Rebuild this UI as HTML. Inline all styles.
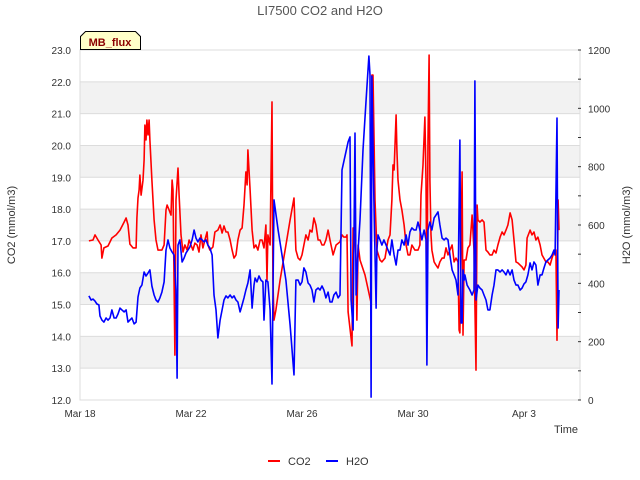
<!DOCTYPE html>
<html><head><meta charset="utf-8"><style>
body{margin:0;background:#fff;}
svg{display:block;font-family:"Liberation Sans","DejaVu Sans",sans-serif;}
</style></head><body>
<svg id="chart" width="640" height="480" viewBox="0 0 640 480">
<rect x="0" y="0" width="640" height="480" fill="#fff"/>
<text x="320" y="15" text-anchor="middle" font-size="13" fill="#555">LI7500 CO2 and H2O</text>
<g id="bands"></g>
<g id="grid"></g>
<g id="axes"></g>
<g id="series"></g>
<text x="15" y="225" transform="rotate(-90 15 225)" text-anchor="middle" font-size="11" fill="#333">CO2 (mmol/m3)</text>
<text x="630" y="225" transform="rotate(-90 630 225)" text-anchor="middle" font-size="11" fill="#333">H2O (mmol/m3)</text>
<text x="578" y="433" text-anchor="end" font-size="11" fill="#333">Time</text>
<g>
<path d="M80.5,49.5 L80.5,36.5 L85.5,31.5 L135.5,31.5 L140.5,36.5 L140.5,49.5 Z" fill="#ffffc8" stroke="#000" stroke-width="1"/>
<text x="110" y="46" text-anchor="middle" font-size="11" font-weight="bold" fill="#8b0000">MB_flux</text>
</g>
<g>
<g>
<line x1="268" y1="461" x2="280" y2="461" stroke="#f00" stroke-width="2"/>
<text x="288" y="465" font-size="11" fill="#333">CO2</text></g>
<g>
<line x1="326" y1="461" x2="338" y2="461" stroke="#00f" stroke-width="2"/>
<text x="346" y="465" font-size="11" fill="#333">H2O</text></g>
</g>
</svg>
<script>
const xTickLabels=["Mar 18","Mar 22","Mar 26","Mar 30","Apr 3"];
const xTickDays=[0,4,8,12,16];
const leftTicks=[12,13,14,15,16,17,18,19,20,21,22,23];
const rightTicks=[0,200,400,600,800,1000,1200];
const co2Times=[.32,.47,.54,.65,.76,.79,.86,1.01,1.15,1.30,1.44,1.59,1.66,1.73,1.80,1.91,2.02,2.05,2.09,2.13,2.16,2.20,2.27,2.31,2.34,2.38,2.41,2.45,2.49,2.52,2.59,2.67,2.74,2.81,2.95,3.03,3.10,3.14,3.21,3.28,3.32,3.35,3.42,3.46,3.53,3.57,3.64,3.71,3.78,3.86,3.93,4.00,4.07,4.14,4.22,4.29,4.36,4.43,4.50,4.58,4.61,4.68,4.79,4.86,4.97,5.05,5.12,5.19,5.26,5.33,5.41,5.48,5.55,5.62,5.69,5.77,5.84,5.91,5.98,6.02,6.05,6.13,6.20,6.27,6.34,6.41,6.49,6.56,6.63,6.70,6.74,6.77,6.85,6.92,6.95,6.99,7.06,7.21,7.39,7.57,7.71,7.78,7.86,7.93,8.00,8.07,8.14,8.22,8.29,8.36,8.43,8.50,8.58,8.65,8.72,8.79,8.86,8.94,9.01,9.12,9.23,9.37,9.44,9.51,9.59,9.62,9.66,9.80,9.84,9.91,9.95,9.98,10.02,10.09,10.27,10.49,10.52,10.56,10.63,10.70,10.81,10.88,10.99,11.10,11.17,11.24,11.28,11.32,11.39,11.42,11.46,11.53,11.60,11.68,11.75,11.82,11.89,11.96,12.07,12.18,12.25,12.29,12.36,12.43,12.47,12.50,12.54,12.58,12.61,12.65,12.68,12.76,12.83,12.90,12.97,13.05,13.12,13.19,13.26,13.33,13.41,13.48,13.55,13.62,13.66,13.69,13.73,13.77,13.80,13.84,13.91,13.98,14.05,14.13,14.20,14.27,14.31,14.34,14.41,14.49,14.56,14.63,14.70,14.77,14.85,14.92,14.99,15.06,15.14,15.21,15.28,15.35,15.42,15.50,15.57,15.64,15.71,15.78,15.86,15.93,16.00,16.07,16.11,16.22,16.29,16.36,16.43,16.50,16.58,16.65,16.79,16.86,16.94,17.01,17.08,17.15,17.19,17.23,17.26];
const co2Values=[17.00,17.03,17.19,17.03,16.87,16.46,16.78,16.84,17.09,17.19,17.34,17.59,17.72,17.50,16.90,16.78,16.78,17.72,18.35,18.60,19.07,18.44,18.91,19.54,20.64,20.17,20.80,20.33,20.80,20.17,18.91,17.66,17.03,16.71,16.71,16.87,17.97,18.13,17.97,17.81,18.91,18.60,13.41,18.29,19.29,18.44,17.19,16.65,16.87,16.71,17.03,16.87,16.71,16.93,16.87,16.65,17.19,16.78,17.03,17.28,16.87,16.71,16.81,17.28,17.34,17.50,17.25,17.47,17.28,17.28,17.03,16.71,16.46,16.56,17.03,17.34,17.41,18.13,19.17,18.76,19.86,18.60,17.34,16.78,16.87,16.71,17.03,17.03,16.78,17.50,15.77,17.19,16.87,21.37,15.77,14.51,14.83,15.77,16.71,17.66,18.35,16.71,16.46,16.40,16.56,16.87,17.19,17.03,17.34,17.28,17.72,17.50,17.03,17.03,16.87,16.87,17.03,17.34,17.03,16.56,16.87,16.97,17.19,17.12,17.12,17.19,14.77,13.70,17.41,17.03,16.40,14.51,16.87,16.40,15.93,15.05,22.21,22.21,18.29,16.71,16.40,16.34,16.46,17.03,17.19,18.29,19.39,19.23,20.96,19.86,18.91,18.29,17.97,17.50,16.87,16.56,16.56,16.87,16.71,16.71,16.87,18.44,19.39,20.89,18.91,14.99,20.17,22.84,18.91,17.19,16.71,16.34,16.24,16.15,16.34,16.46,16.46,16.78,16.56,16.71,16.87,16.34,16.46,16.34,14.20,14.11,16.71,19.17,14.04,16.40,16.40,16.78,16.87,17.81,16.71,12.94,18.13,17.66,17.59,17.66,17.59,16.71,16.65,16.56,16.56,16.71,16.62,16.87,17.12,17.28,17.19,17.34,17.50,17.88,17.66,17.03,16.34,16.31,16.24,16.18,16.09,16.24,17.09,17.34,17.19,17.28,17.03,17.12,16.87,16.56,16.34,16.34,16.24,16.46,16.65,16.71,13.88,18.29,17.34];
const h2oTimes=[.32,.40,.47,.54,.61,.68,.72,.79,.86,.94,1.01,1.08,1.15,1.23,1.30,1.37,1.44,1.51,1.59,1.66,1.73,1.80,1.87,1.95,2.02,2.09,2.16,2.23,2.31,2.38,2.45,2.52,2.59,2.67,2.74,2.81,2.88,2.95,3.03,3.10,3.17,3.24,3.32,3.39,3.46,3.50,3.53,3.60,3.68,3.75,3.82,3.89,3.96,4.04,4.11,4.18,4.25,4.32,4.40,4.47,4.54,4.61,4.68,4.76,4.83,4.90,4.97,5.05,5.12,5.19,5.26,5.33,5.41,5.48,5.55,5.62,5.69,5.77,5.84,5.91,5.98,6.05,6.13,6.20,6.27,6.31,6.38,6.45,6.52,6.59,6.63,6.70,6.77,6.85,6.92,6.99,7.14,7.28,7.42,7.57,7.71,7.78,7.86,7.93,8.00,8.07,8.14,8.22,8.29,8.36,8.43,8.50,8.58,8.65,8.72,8.79,8.86,8.94,9.01,9.08,9.15,9.23,9.30,9.37,9.44,9.66,9.73,9.77,9.84,9.91,9.95,10.02,10.09,10.20,10.31,10.41,10.45,10.49,10.52,10.59,10.67,10.70,10.74,10.81,10.88,10.95,11.03,11.10,11.17,11.24,11.32,11.39,11.46,11.53,11.60,11.68,11.75,11.82,11.89,11.96,12.04,12.11,12.18,12.25,12.32,12.40,12.47,12.50,12.54,12.61,12.68,12.76,12.83,12.90,12.97,13.05,13.12,13.19,13.26,13.33,13.41,13.48,13.55,13.62,13.69,13.73,13.77,13.80,13.84,13.87,13.95,14.05,14.13,14.20,14.23,14.27,14.34,14.41,14.49,14.56,14.63,14.70,14.77,14.85,14.92,14.99,15.06,15.14,15.21,15.28,15.35,15.42,15.50,15.57,15.64,15.71,15.78,15.86,15.93,16.00,16.07,16.14,16.22,16.29,16.36,16.43,16.50,16.58,16.65,16.72,16.79,16.86,16.94,17.01,17.08,17.12,17.19,17.23,17.26];
const h2oValues=[357,343,346,339,329,326,288,274,267,281,274,281,309,281,281,295,315,309,302,309,267,274,281,261,267,353,384,394,439,425,435,446,391,360,343,336,350,370,405,514,549,521,507,497,377,75,531,549,473,487,504,514,525,549,583,555,542,555,549,542,549,531,521,497,360,309,213,274,309,343,357,350,360,350,357,343,336,302,326,350,377,401,446,315,394,418,405,425,411,405,274,411,405,309,55,686,583,497,411,257,86,411,411,394,405,453,439,401,394,377,336,377,384,377,391,377,350,370,336,336,360,370,350,360,789,885,902,343,240,915,360,514,617,857,1029,1179,1114,10,1111,686,315,514,566,549,531,549,531,514,497,549,497,463,514,514,549,531,566,531,576,590,583,583,610,583,549,583,549,120,583,610,583,624,634,645,600,555,549,555,549,497,446,429,411,360,891,264,264,446,411,429,394,377,360,377,1094,343,394,384,377,360,343,309,309,360,394,446,446,439,446,439,429,446,429,446,411,394,394,377,384,398,405,429,470,446,473,463,394,429,429,453,473,480,487,497,514,497,967,247,377];

const X0=80,X1=580,Y0=50,Y1=400,DAYPX=27.75;
const xs=t=>X0+t*DAYPX;
const yL=v=>Y1-(v-12)/(23-12)*(Y1-Y0);
const yR=v=>Y1-v/1200*(Y1-Y0);
const NS='http://www.w3.org/2000/svg';
function mk(tag,parent){const e=document.createElementNS(NS,tag);document.getElementById(parent).appendChild(e);return e;}

for(let i=0;i<leftTicks.length-1;i++){
  if(i%2===1){
    const r=mk('rect','bands');
    
    
    r.setAttribute('x',X0);r.setAttribute('width',X1-X0);
    r.setAttribute('y',yL(leftTicks[i+1]));r.setAttribute('height',yL(leftTicks[i])-yL(leftTicks[i+1]));
    r.setAttribute('fill','#f2f2f2');
  }
}
leftTicks.forEach(v=>{
  const l=mk('line','grid');
  
  
  l.setAttribute('x1',X0);l.setAttribute('x2',X1);l.setAttribute('y1',yL(v));l.setAttribute('y2',yL(v));
  l.setAttribute('stroke','#dcdcdc');l.setAttribute('stroke-width','1');
  const t=mk('text','axes');
  
  
  t.setAttribute('x',X0-9);t.setAttribute('y',yL(v)+4);t.setAttribute('text-anchor','end');
  t.setAttribute('font-size','10');t.setAttribute('fill','#333');t.textContent=v.toFixed(1);
});
const box=mk('rect','axes');


box.setAttribute('x',X0);box.setAttribute('y',Y0);box.setAttribute('width',X1-X0);box.setAttribute('height',Y1-Y0);
box.setAttribute('fill','none');box.setAttribute('stroke','#dcdcdc');
for(let v=0;v<=1200;v+=100){
  const l=mk('line','axes');
  
  
  l.setAttribute('x1',X1-2);l.setAttribute('x2',X1+1);l.setAttribute('y1',yR(v));l.setAttribute('y2',yR(v));l.setAttribute('stroke','#333');
}
rightTicks.forEach(v=>{
  const t=mk('text','axes');
  
  
  t.setAttribute('x',X1+8);t.setAttribute('y',yR(v)+4);
  t.setAttribute('font-size','10');t.setAttribute('fill','#333');t.textContent=v;
});
xTickDays.forEach((d,i)=>{
  const t=mk('text','axes');
  
  
  t.setAttribute('x',xs(d));t.setAttribute('y',Y1+17);t.setAttribute('text-anchor','middle');
  t.setAttribute('font-size','10');t.setAttribute('fill','#333');t.textContent=xTickLabels[i];
});
function line(times,vals,yf,color,name){
  const p=mk('polyline','series');
  
  
  p.setAttribute('points',times.map((t,i)=>xs(t).toFixed(1)+','+yf(vals[i]).toFixed(1)).join(' '));
  p.setAttribute('fill','none');p.setAttribute('stroke',color);p.setAttribute('stroke-width','1.6');p.setAttribute('stroke-linejoin','round');
}
line(co2Times,co2Values,yL,'#ff0000','co2-line');
line(h2oTimes,h2oValues,yR,'#0000ff','h2o-line');
</script>
</body></html>
